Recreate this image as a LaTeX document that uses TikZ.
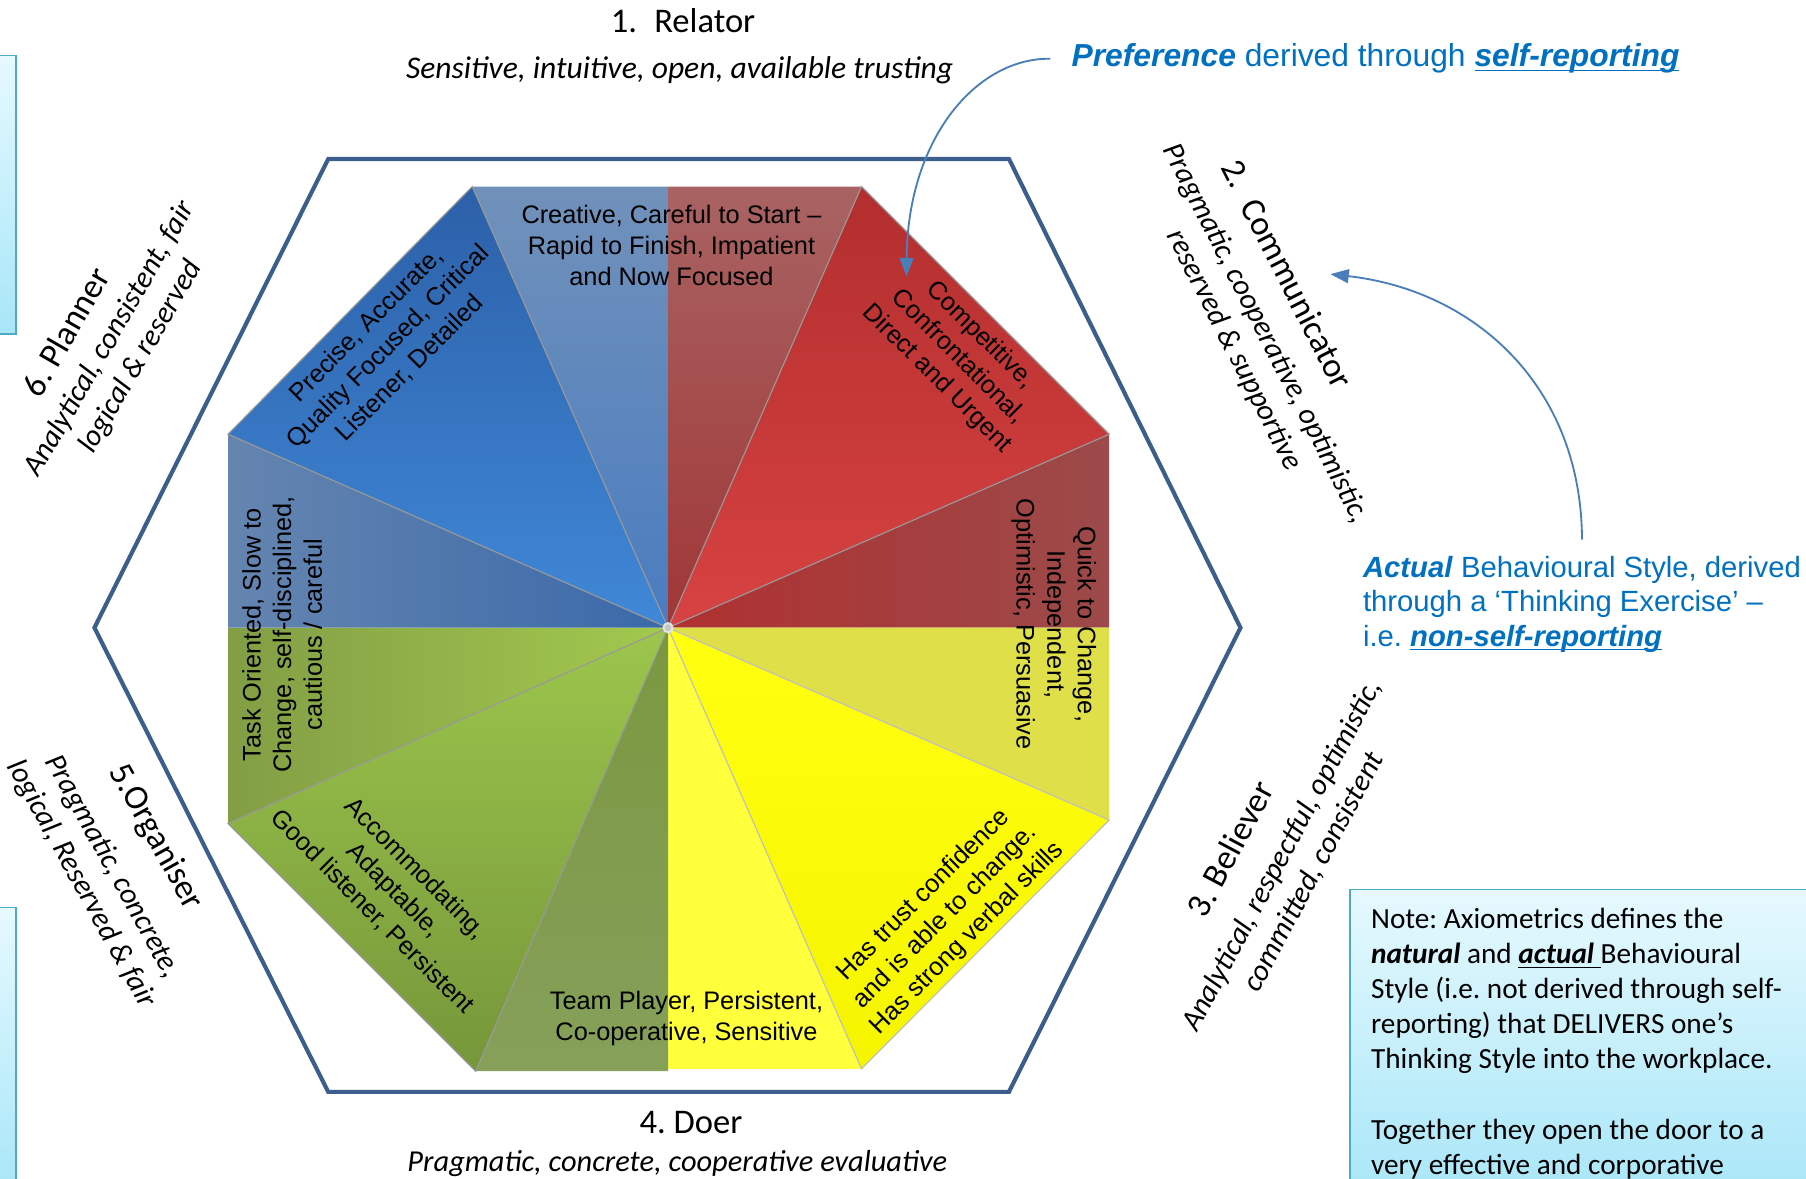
\documentclass[tikz,border=0pt]{standalone}
\usepackage{fontspec}
\setmainfont{Carlito}
\newfontfamily\arialfont{Liberation Sans}
\usetikzlibrary{arrows.meta}
\frenchspacing

\definecolor{hexline}{HTML}{3B5E8C}
\definecolor{annoblue}{HTML}{0070C0}
\definecolor{arrowblue}{HTML}{4A7EBB}
\definecolor{noteline}{HTML}{4BACC6}
\definecolor{notetop}{HTML}{E6F9FE}
\definecolor{notebot}{HTML}{A8E6F8}
% wheel colours
\definecolor{steeltop}{HTML}{7191BA}
\definecolor{steelbot}{HTML}{4A7CC0}
\definecolor{rusttop}{HTML}{A96363}
\definecolor{rustbot}{HTML}{A03636}
\definecolor{rustin}{HTML}{B03030}
\definecolor{rustout}{HTML}{9C4A4A}
\definecolor{olivey}{HTML}{DFDF4A}
\definecolor{paley}{HTML}{FFFF3C}
\definecolor{olivetop}{HTML}{7A9840}
\definecolor{olivebot}{HTML}{86A05A}
\definecolor{greenout}{HTML}{829E45}
\definecolor{greenin}{HTML}{A3C94E}
\definecolor{slateout}{HTML}{6585B0}
\definecolor{slatein}{HTML}{3A69A9}
\definecolor{bluetop}{HTML}{2C60A8}
\definecolor{bluebot}{HTML}{4088D8}
\definecolor{redtop}{HTML}{B32E2E}
\definecolor{redbot}{HTML}{D84242}
\definecolor{yeltop}{HTML}{FFFF10}
\definecolor{yelbot}{HTML}{F5F500}
\definecolor{greentop}{HTML}{9CC64C}
\definecolor{greenbot}{HTML}{76963A}

\newcommand\keyword[1]{\underline{\smash{\textbf{\textit{#1}}}}}

\tikzset{
  rolename/.style={font=\fontsize{15}{18}\selectfont},
  roletraits/.style={font=\fontsize{13}{15.5}\selectfont\itshape, align=center},
  segtext/.style={font=\arialfont\fontsize{11}{13.3}\selectfont, align=center},
  anno/.style={text=annoblue},
  callout/.style={-{Triangle[length=8pt,width=6pt]}, arrowblue, line width=0.8pt},
  notebox/.style={draw=noteline, line width=0.6pt, top color=notetop, bottom color=notebot}
}

\begin{document}
\begin{tikzpicture}[x=0.5pt, y=-0.5pt]
  \useasboundingbox (0,0) rectangle (1568,1023);
  \clip (0,0) rectangle (1568,1023);

  % outer hexagon
  \draw[hexline, line width=1.8pt] (285,138) -- (876,138) -- (1077,545) -- (876,948) -- (285,948) -- (82,545) -- cycle;

  % half segments
  \shade[top color=steeltop, bottom color=steelbot] (580,545) -- (410,162) -- (580,162) -- cycle;
  \shade[top color=rusttop, bottom color=rustbot] (580,545) -- (580,162) -- (748,162) -- cycle;
  \shade[left color=rustin, right color=rustout] (580,545) -- (963,377) -- (963,545) -- cycle;
  \fill[olivey] (580,545) -- (963,545) -- (963,712) -- cycle;
  \fill[paley] (580,545) -- (748,928) -- (580,928) -- cycle;
  \shade[top color=olivetop, bottom color=olivebot] (580,545) -- (580,930) -- (413,930) -- cycle;
  \shade[left color=greenout, right color=greenin] (580,545) -- (198,715) -- (198,545) -- cycle;
  \shade[left color=slateout, right color=slatein] (580,545) -- (198,545) -- (198,377) -- cycle;

  % main segments
  \shade[top color=bluetop, bottom color=bluebot, draw=black!40, line width=0.5pt] (580,545) -- (198,377) -- (410,162) -- cycle;
  \shade[top color=redtop, bottom color=redbot, draw=black!40, line width=0.5pt] (580,545) -- (748,162) -- (963,377) -- cycle;
  \shade[top color=yeltop, bottom color=yelbot, draw=black!25, line width=0.5pt] (580,545) -- (963,712) -- (748,928) -- cycle;
  \shade[top color=greentop, bottom color=greenbot, draw=black!40, line width=0.5pt] (580,545) -- (413,930) -- (198,715) -- cycle;
  \filldraw[fill=gray!45, draw=gray!20, line width=0.8pt] (580,545) circle (4);

  % segment texts
  \node[segtext] (creative) at (583,213) {Creative, Careful to Start –\\Rapid to Finish, Impatient\\and Now Focused};
  \node[segtext, rotate=45] (precise) at (337,301) {Precise, Accurate,\\Quality Focused, Critical\\Listener, Detailed};
  \node[segtext, rotate=-45] (competitive) at (832,310) {Competitive,\\Confrontational,\\Direct and Urgent};
  \node[segtext, rotate=-90] (quick) at (915,542) {Quick to Change,\\Independent,\\Optimistic, Persuasive};
  \node[segtext, rotate=45] (trust) at (821,796) {Has trust confidence\\and is able to change.\\Has strong verbal skills};
  \node[segtext] (team) at (596,884) {Team Player, Persistent,\\Co-operative, Sensitive};
  \node[segtext, rotate=-45] (accommodating) at (342,773) {Accommodating,\\Adaptable,\\Good listener, Persistent};
  \node[segtext, rotate=90] (task) at (245,551) {Task Oriented, Slow to\\Change, self-disciplined,\\cautious / careful};

  % role names round the hexagon
  \node[rolename] (relator) at (593,18) {1.\enspace Relator};
  \node[roletraits, font=\fontsize{13.7}{16}\selectfont\itshape] (relatorTraits) at (590,61) {Sensitive, intuitive, open, available trusting};
  \node[rolename, rotate=-63] (communicator) at (1118,238) {2.\enspace Communicator};
  \node[roletraits, rotate=-63] (communicatorTraits) at (1085,297) {Pragmatic, cooperative, optimistic,\\reserved \& supportive};
  \node[rolename, rotate=62] (believer) at (1068,737) {3. Believer};
  \node[roletraits, rotate=62] (believerTraits) at (1127,750) {Analytical, respectful, optimistic,\\committed, consistent};
  \node[rolename] (doer) at (600,975) {4. Doer};
  \node[roletraits, font=\fontsize{13.2}{16}\selectfont\itshape] (doerTraits) at (588,1010) {Pragmatic, concrete, cooperative evaluative};
  \node[rolename, rotate=-61] (organiser) at (135,727) {5.Organiser};
  \node[roletraits, rotate=-61] (organiserTraits) at (84,760) {Pragmatic, concrete,\\logical, Reserved \& fair};
  \node[rolename, rotate=60] (planner) at (57,288) {6. Planner};
  \node[roletraits, rotate=60] (plannerTraits) at (109,302) {Analytical, consistent, fair\\logical \& reserved};

  % side boxes
  \draw[notebox] (-10,48) rectangle (14,290);
  \draw[notebox] (-10,788) rectangle (14,1040);
  \draw[notebox] (1172,772) rectangle (1580,1040);
  \node[anchor=north west, align=left, inner sep=0pt, font=\fontsize{12.7}{15.25}\selectfont] (note) at (1190,788) {Note: Axiometrics defines the\\\textbf{\textit{natural}} and \underline{\textbf{\textit{actual }}}Behavioural\\Style (i.e. not derived through self-\\reporting) that DELIVERS one’s\\Thinking Style into the workplace.\\[15.25pt]Together they open the door to a\\very effective and corporative};

  % blue call-outs
  \node[anno, anchor=west, inner xsep=9pt, font=\arialfont\fontsize{13.8}{16}\selectfont] (pref) at (912,51) {\textbf{\textit{Preference}} derived through \keyword{self-reporting}};
  \node[anno, anchor=west, align=left, inner sep=7pt, font=\arialfont\fontsize{12.7}{15}\selectfont] (act) at (1169,524) {\textbf{\textit{Actual}} Behavioural Style, derived\\through a ‘Thinking Exercise’ –\\i.e. \keyword{non-self-reporting}};
  \coordinate (prefTip) at (787,240);
  \coordinate (actTip) at (1155,238);
  \draw[callout] (pref.west) .. controls (848,50) and (788,120) .. (prefTip);
  \draw[callout] (act.north) .. controls (1373,335) and (1280,252) .. (actTip);
\end{tikzpicture}
\end{document}
